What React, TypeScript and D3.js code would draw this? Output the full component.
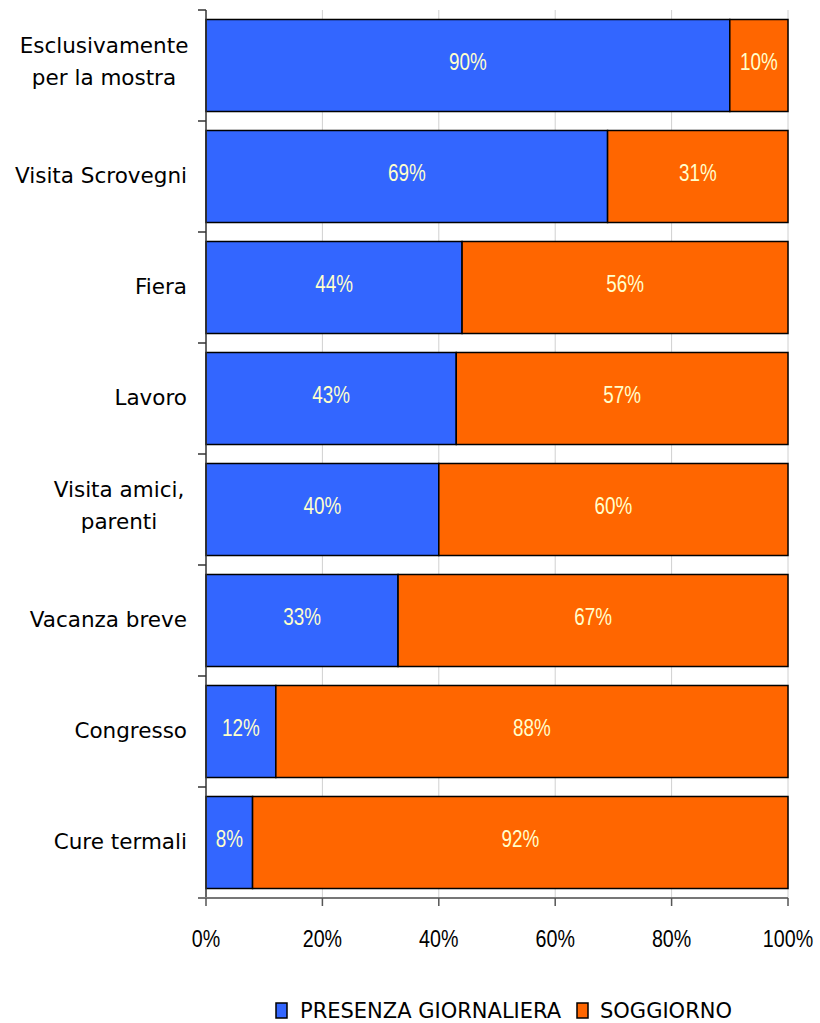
import React from "react";
import * as d3 from "d3";

// Motivi della visita: quota di presenza giornaliera vs soggiorno
const categories: string[][] = [
  ["Esclusivamente", "per la mostra"],
  ["Visita Scrovegni"],
  ["Fiera"],
  ["Lavoro"],
  ["Visita amici,", "parenti"],
  ["Vacanza breve"],
  ["Congresso"],
  ["Cure termali"],
];
const presenzaGiornaliera = [90, 69, 44, 43, 40, 33, 12, 8];
const soggiorno = [10, 31, 56, 57, 60, 67, 88, 92];
const seriesNames = ["PRESENZA GIORNALIERA", "SOGGIORNO"];
const xTicks = [0, 20, 40, 60, 80, 100];

const COLORS = ["#3366FF", "#FF6600"];
const LABEL_FONT = "'DejaVu Sans', Verdana, sans-serif";
const NUM_FONT = "'Liberation Sans', Arial, sans-serif";
const NARROW = 0.82; // horizontal squeeze for the numeric labels

const W = 820;
const H = 1023;
const left = 206;
const right = 788;
const top = 10;
const bottom = 898;

// narrow numeric text centred on (cx, baseline)
function NumText(props: { cx: number; by: number; size: number; fill: string; children: React.ReactNode }) {
  return (
    <text
      transform={`translate(${props.cx},${props.by}) scale(${NARROW},1)`}
      textAnchor="middle"
      fontFamily={NUM_FONT}
      fontSize={props.size}
      fill={props.fill}
    >
      {props.children}
    </text>
  );
}

export default function App() {
  const keys = categories.map((c) => c.join(" "));
  const x = d3.scaleLinear().domain([0, 100]).range([left, right]);
  const y = d3
    .scaleBand<string>()
    .domain(keys)
    .range([top, bottom])
    .paddingInner(0.171)
    .paddingOuter(0.0855);
  const step = y.step();

  const rows = keys.map((k, i) => ({ key: k, vals: [presenzaGiornaliera[i], soggiorno[i]] }));
  const stack = d3.stack<any>().keys(["0", "1"]).value((d, key) => d.vals[+key]);
  const stacked = stack(rows as any);

  return (
    <svg
      width={W}
      height={H}
      style={{ position: "absolute", left: 0, top: 0, background: "#fff" }}
    >
      {/* vertical gridlines */}
      {xTicks.slice(1).map((t) => (
        <line key={"g" + t} x1={x(t)} x2={x(t)} y1={top} y2={bottom} stroke="#d0d0d0" strokeWidth={1} />
      ))}

      {/* stacked bars */}
      {stacked.map((layer, si) =>
        layer.map((seg, i) => (
          <rect
            key={si + "-" + i}
            x={x(seg[0])}
            y={y(keys[i])}
            width={x(seg[1]) - x(seg[0])}
            height={y.bandwidth()}
            fill={COLORS[si]}
            stroke="#000"
            strokeWidth={1.5}
          />
        ))
      )}

      {/* value labels */}
      {stacked.map((layer, si) =>
        layer.map((seg, i) => (
          <NumText
            key={"v" + si + "-" + i}
            cx={(x(seg[0]) + x(seg[1])) / 2}
            by={(y(keys[i]) as number) + y.bandwidth() / 2 + 4}
            size={23}
            fill="#FFFFCC"
          >
            {rows[i].vals[si]}%
          </NumText>
        ))
      )}

      {/* y axis */}
      <line x1={left} x2={left} y1={top} y2={bottom} stroke="#333" strokeWidth={1.5} />
      {d3.range(keys.length + 1).map((i) => (
        <line
          key={"yt" + i}
          x1={left - 8}
          x2={left}
          y1={top + i * step}
          y2={top + i * step}
          stroke="#333"
          strokeWidth={1.5}
        />
      ))}

      {/* x axis */}
      <line x1={left - 8} x2={right} y1={bottom} y2={bottom} stroke="#777" strokeWidth={2} />
      {xTicks.map((t) => (
        <g key={"xt" + t}>
          <line x1={x(t)} x2={x(t)} y1={bottom} y2={bottom + 8} stroke="#555" strokeWidth={1.5} />
          <NumText cx={x(t)} by={947} size={24} fill="#000">
            {t}%
          </NumText>
        </g>
      ))}

      {/* category labels */}
      {categories.map((lines, i) => {
        const cy = (y(keys[i]) as number) + y.bandwidth() / 2;
        return (
          <text
            key={"c" + i}
            fontFamily={LABEL_FONT}
            fontSize={21.5}
            fill="#000"
            textAnchor={lines.length > 1 ? "middle" : "end"}
          >
            {lines.length > 1
              ? lines.map((l, j) => (
                  <tspan key={j} x={i === 0 ? 104 : 119} y={cy - 13 + j * 32}>
                    {l}
                  </tspan>
                ))
              : (
                  <tspan x={187} y={cy + 6}>
                    {lines[0]}
                  </tspan>
                )}
          </text>
        );
      })}

      {/* legend */}
      <g>
        <rect x={276} y={1003} width={11} height={15} fill={COLORS[0]} stroke="#000" strokeWidth={1.5} />
        <text x={300} y={1018} fontFamily={LABEL_FONT} fontSize={21} fill="#000">
          {seriesNames[0]}
        </text>
        <rect x={577} y={1003} width={11} height={15} fill={COLORS[1]} stroke="#000" strokeWidth={1.5} />
        <text x={600} y={1018} fontFamily={LABEL_FONT} fontSize={21} fill="#000">
          {seriesNames[1]}
        </text>
      </g>
    </svg>
  );
}
